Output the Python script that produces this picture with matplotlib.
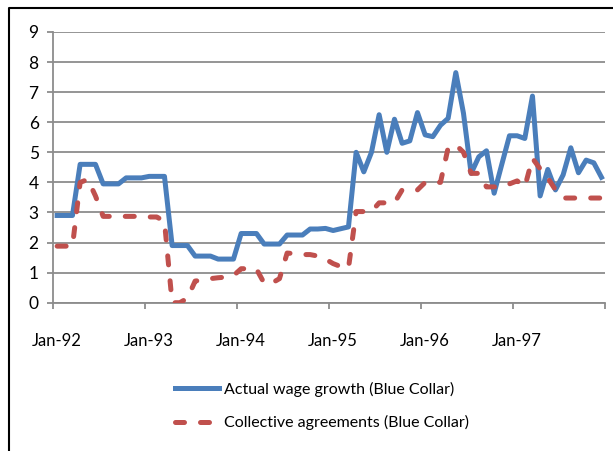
import numpy as np
import matplotlib
matplotlib.use("Agg")
import matplotlib.pyplot as plt
from matplotlib.lines import Line2D

# ----- data (monthly, Jan-92 .. Dec-97) -----
actual_wage_growth = [
    2.9, 2.9, 2.9, 4.6, 4.6, 4.6, 3.95, 3.95, 3.95, 4.15, 4.15, 4.15,
    4.2, 4.2, 4.2, 1.9, 1.9, 1.9, 1.55, 1.55, 1.55, 1.45, 1.45, 1.45,
    2.3, 2.3, 2.3, 1.95, 1.95, 1.95, 2.25, 2.25, 2.25, 2.45, 2.45, 2.47,
    2.4, 2.46, 2.52, 5.0, 4.35, 5.0, 6.25, 5.0, 6.1, 5.3, 5.38, 6.32,
    5.58, 5.52, 5.9, 6.13, 7.65, 6.3, 4.3, 4.85, 5.05, 3.64, 4.6, 5.55,
    5.55, 5.46, 6.87, 3.55, 4.43, 3.75, 4.25, 5.15, 4.32, 4.74, 4.65, 4.17,
]
collective_agreements = [
    1.88, 1.88, 1.88, 4.0, 4.1, 3.55, 2.87, 2.87, 2.87, 2.87, 2.87, 2.87,
    2.85, 2.85, 2.7, 0.0, 0.0, 0.15, 0.72, 0.75, 0.8, 0.83, 0.85, 0.9,
    1.13, 1.13, 1.12, 0.65, 0.65, 0.8, 1.65, 1.63, 1.6, 1.6, 1.55, 1.45,
    1.3, 1.2, 1.15, 3.03, 3.03, 3.03, 3.32, 3.32, 3.32, 3.75, 3.75, 3.75,
    4.0, 4.0, 4.0, 5.15, 5.25, 5.0, 4.3, 4.3, 3.85, 3.85, 3.85, 3.95,
    4.05, 3.85, 4.8, 4.45, 4.15, 3.75, 3.48, 3.48, 3.48, 3.48, 3.48, 3.48,
]
year_labels = ["Jan-92", "Jan-93", "Jan-94", "Jan-95", "Jan-96", "Jan-97"]
series_names = ["Actual wage growth (Blue Collar)", "Collective agreements (Blue Collar)"]

BLUE = "#4A7EBB"
RED = "#C0504D"
GRID = "#8C8C8C"

plt.rcParams["font.family"] = ["Lato", "DejaVu Sans"]

W, H = 613, 451
fig = plt.figure(figsize=(W / 100, H / 100), dpi=100)
ax = fig.add_axes([53.3 / W, 1 - 302.7 / H, (605.3 - 53.3) / W, (302.7 - 32) / H])

n = len(actual_wage_growth)
x = np.arange(n) + 0.5
lw = 3.6
ax.plot(x, actual_wage_growth, color=BLUE, lw=lw, zorder=3,
        solid_joinstyle="round", label=series_names[0])
ax.plot(x, collective_agreements, color=RED, lw=lw, zorder=4,
        linestyle=(0, (1.8, 3.2)), dash_capstyle="round", dash_joinstyle="round",
        label=series_names[1])

ax.set_xlim(0, n)
ax.set_ylim(0, 9)
ax.set_yticks(range(0, 10))
ax.yaxis.grid(True, color=GRID, lw=1.3, zorder=1)
ax.set_axisbelow(True)

# major ticks mark the year boundaries, labels sit on the first month
ax.set_xticks(np.arange(0, n + 1, 12))
ax.set_xticklabels([])
ax.set_xticks(np.arange(0, n, 12) + 0.5, minor=True)
ax.set_xticklabels(year_labels, minor=True)
ax.tick_params(axis="x", which="major", length=4.5, width=1.3, color=GRID, direction="out")
ax.tick_params(axis="x", which="minor", length=0, pad=22, labelsize=12, colors="black")
ax.tick_params(axis="y", length=4.5, width=1.3, color=GRID, pad=6, labelsize=12.5)

for s in ["top", "right"]:
    ax.spines[s].set_visible(False)
for s in ["left", "bottom"]:
    ax.spines[s].set_color(GRID)
    ax.spines[s].set_linewidth(1.3)

fig.legend(loc="center", bbox_to_anchor=(322 / W, 1 - 406 / H), frameon=False,
           fontsize=11.5, handlelength=2.8, handletextpad=0.3, labelspacing=1.15)

# outer chart border (only left and top edges fall inside the crop)
fig.add_artist(Line2D([8.5 / W, 8.5 / W, 1.0], [0.0, 1 - 8 / H, 1 - 8 / H],
                      transform=fig.transFigure, color="black", lw=1.5))

fig.savefig("out.png", dpi=100)
